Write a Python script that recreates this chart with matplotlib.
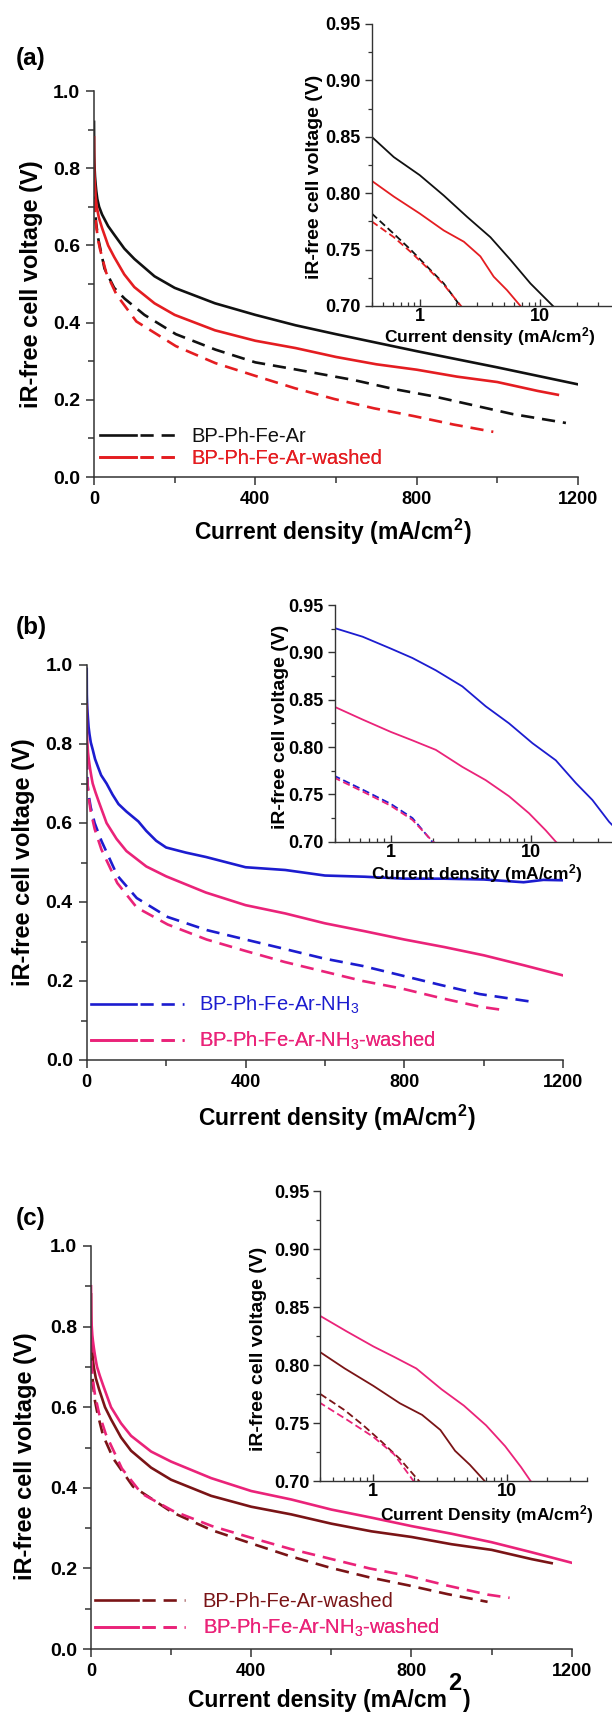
import matplotlib
matplotlib.use('Agg')
import numpy as np
import matplotlib.pyplot as plt
from matplotlib.ticker import MultipleLocator, LogLocator, NullFormatter
from matplotlib.legend_handler import HandlerTuple
from matplotlib.lines import Line2D

plt.rcParams['font.family'] = ['Liberation Sans', 'DejaVu Sans']
plt.rcParams['mathtext.fontset'] = 'custom'
plt.rcParams['mathtext.rm'] = 'Liberation Sans'
plt.rcParams['mathtext.bf'] = 'Liberation Sans:bold'
plt.rcParams['mathtext.it'] = 'Liberation Sans:italic'
plt.rcParams['mathtext.default'] = 'regular'

# ---------------- data (current density mA/cm2, iR-free voltage V) ----------------
ar_solid_x = [0.05, 0.4, 0.61, 1.0, 1.58, 2.47, 3.85, 5.64, 8.26, 12.7, 20, 35, 50, 75, 100, 150, 200,
              300, 400, 500, 600, 700, 800, 900, 1000, 1100, 1200]
ar_solid_v = [0.92, 0.850, 0.832, 0.816, 0.798, 0.779, 0.761, 0.741, 0.720, 0.700, 0.680, 0.650, 0.628,
              0.592, 0.565, 0.520, 0.490, 0.450, 0.420, 0.393, 0.370, 0.348, 0.326, 0.305, 0.284, 0.262, 0.240]

ar_dash_x = [0.4, 0.61, 0.84, 1.15, 1.58, 2.17, 5, 10, 26, 50, 76, 125, 203, 301, 400, 498, 645, 743,
             842, 940, 1038, 1170]
ar_dash_v = [0.782, 0.764, 0.750, 0.735, 0.720, 0.700, 0.660, 0.620, 0.540, 0.490, 0.462, 0.420, 0.370,
             0.330, 0.297, 0.279, 0.251, 0.228, 0.209, 0.186, 0.163, 0.140]

arw_solid_x = [0.05, 0.4, 0.61, 1.0, 1.58, 2.32, 3.18, 4.10, 5.29, 6.83, 12, 20, 35, 50, 75, 100, 150,
               200, 300, 400, 500, 600, 700, 800, 900, 1000, 1100, 1150]
arw_solid_v = [0.88, 0.811, 0.797, 0.782, 0.767, 0.757, 0.744, 0.726, 0.714, 0.700, 0.672, 0.645, 0.600,
               0.570, 0.525, 0.492, 0.450, 0.420, 0.380, 0.353, 0.334, 0.311, 0.292, 0.278, 0.260, 0.246,
               0.223, 0.213]

arw_dash_x = [0.4, 0.61, 0.84, 1.15, 1.58, 2.2, 5, 10, 15, 30, 56, 105, 203, 301, 400, 498, 596, 694,
              792, 891, 990]
arw_dash_v = [0.775, 0.761, 0.748, 0.734, 0.719, 0.700, 0.655, 0.615, 0.590, 0.530, 0.472, 0.403, 0.339,
              0.295, 0.262, 0.230, 0.202, 0.178, 0.158, 0.136, 0.117]

nh3_solid_x = [0.05, 0.39, 0.63, 1.0, 1.43, 2.1, 3.25, 4.77, 7.0, 10.3, 15.1, 21, 27.6, 36.3, 50, 65, 80,
               100, 130, 150, 175, 200, 250, 300, 400, 500, 600, 700, 800, 900, 1000, 1100, 1150, 1200]
nh3_solid_v = [0.99, 0.926, 0.9165, 0.904, 0.894, 0.881, 0.864, 0.843, 0.825, 0.804, 0.786, 0.762, 0.744,
               0.721, 0.700, 0.672, 0.648, 0.629, 0.604, 0.580, 0.555, 0.538, 0.525, 0.514, 0.488, 0.481,
               0.467, 0.464, 0.459, 0.459, 0.457, 0.450, 0.456, 0.455]

nh3_dash_x = [0.39, 0.63, 1.0, 1.43, 1.98, 5, 10, 20, 37, 77, 126, 204, 302, 400, 499, 597, 695, 793,
              891, 989, 1117]
nh3_dash_v = [0.770, 0.755, 0.740, 0.725, 0.700, 0.670, 0.640, 0.600, 0.555, 0.467, 0.410, 0.362, 0.329,
              0.305, 0.281, 0.257, 0.238, 0.214, 0.190, 0.167, 0.148]

nh3w_solid_x = [0.05, 0.39, 0.63, 1.0, 1.43, 2.1, 3.25, 4.77, 7.0, 9.73, 12.8, 15.1, 22, 30, 50, 75, 100,
                150, 200, 300, 400, 500, 600, 700, 800, 900, 1000, 1100, 1200]
nh3w_solid_v = [0.90, 0.843, 0.829, 0.816, 0.807, 0.797, 0.779, 0.765, 0.748, 0.730, 0.712, 0.700, 0.678,
                0.655, 0.600, 0.560, 0.529, 0.490, 0.465, 0.424, 0.392, 0.371, 0.346, 0.326, 0.305, 0.286,
                0.265, 0.240, 0.214]

nh3w_dash_x = [0.39, 0.63, 1.0, 1.43, 2.0, 5, 10, 20, 37, 77, 126, 204, 302, 400, 499, 597, 695, 793, 891,
               990, 1045]
nh3w_dash_v = [0.768, 0.753, 0.738, 0.723, 0.700, 0.665, 0.630, 0.585, 0.533, 0.448, 0.386, 0.343, 0.305,
               0.276, 0.248, 0.224, 0.200, 0.181, 0.157, 0.135, 0.127]

labels_ar = 'BP-Ph-Fe-Ar'
labels_arw = 'BP-Ph-Fe-Ar-washed'
labels_nh3 = 'BP-Ph-Fe-Ar-NH$_3$'
labels_nh3w = 'BP-Ph-Fe-Ar-NH$_3$-washed'
panel_letters = ['(a)', '(b)', '(c)']

main_xticks = [0, 400, 800, 1200]
main_xminor = [200, 600, 1000]
main_yticks = [0.0, 0.2, 0.4, 0.6, 0.8, 1.0]
main_yminor = [0.1, 0.3, 0.5, 0.7, 0.9]
inset_xticks = [1, 10]
inset_yticks = [0.70, 0.75, 0.80, 0.85, 0.90, 0.95]

C_BLACK = '#111111'
C_RED = '#e41d21'
C_BLUE = '#1c1ccf'
C_PINK = '#ea2379'
C_BROWN = '#7a1416'
SPINE = '#333333'

W, H, DPI = 612, 1716, 100
fig = plt.figure(figsize=(W / DPI, H / DPI), dpi=DPI)


def px_axes(left, top, right, bottom):
    return fig.add_axes([left / W, 1 - bottom / H, (right - left) / W, (bottom - top) / H])


LW_MAIN = 1.9
LW_IN = 1.3
DASH_MAIN = (0, (5, 3))
DASH_IN = (0, (4, 2))


def style_main(ax, xlabel_pos, ylabel_pos, xlabel=True):
    ax.set_xlim(0, 1200)
    ax.set_ylim(0, 1.0)
    for s in ['top', 'right']:
        ax.spines[s].set_visible(False)
    for s in ['left', 'bottom']:
        ax.spines[s].set_color(SPINE)
        ax.spines[s].set_linewidth(1.1)
    ax.set_xticks(main_xticks, labels=[str(t) for t in main_xticks], fontsize=13, fontweight='bold')
    ax.set_yticks(main_yticks, labels=['%.1f' % t for t in main_yticks], fontsize=14, fontweight='bold')
    ax.set_xticks(main_xminor, minor=True)
    ax.set_yticks(main_yminor, minor=True)
    ax.tick_params(which='major', direction='out', length=6, width=1.1, color=SPINE, pad=4)
    ax.tick_params(which='minor', direction='out', length=4, width=1.1, color=SPINE)
    if xlabel:
        ax.set_xlabel('Current density (mA/cm$^\\mathbf{2}$)', fontsize=16.5, fontweight='bold', va='center')
        ax.xaxis.set_label_coords(*xlabel_pos)
    ax.set_ylabel('iR-free cell voltage (V)', fontsize=17, fontweight='bold', va='center')
    ax.yaxis.set_label_coords(*ylabel_pos)
    ax.patch.set_alpha(0)


def style_inset(ax, xlabel_text, xlabel_pos, ylabel_pos):
    ax.set_xscale('log')
    ax.set_xlim(0.4, 40)
    ax.set_ylim(0.70, 0.95)
    for s in ['top', 'right']:
        ax.spines[s].set_visible(False)
    for s in ['left', 'bottom']:
        ax.spines[s].set_color(SPINE)
        ax.spines[s].set_linewidth(1.0)
    ax.set_xticks(inset_xticks, labels=[str(t) for t in inset_xticks], fontsize=13, fontweight='bold')
    ax.xaxis.set_minor_locator(LogLocator(base=10, subs=np.arange(2, 10)))
    ax.xaxis.set_minor_formatter(NullFormatter())
    ax.set_yticks(inset_yticks, labels=['%.2f' % t for t in inset_yticks], fontsize=13, fontweight='bold')
    ax.yaxis.set_minor_locator(MultipleLocator(0.025))
    ax.tick_params(axis='x', which='major', direction='in', length=5, width=1.0, color=SPINE, pad=1.5)
    ax.tick_params(axis='x', which='minor', direction='in', length=3, width=0.9, color=SPINE)
    ax.tick_params(axis='y', which='major', direction='out', length=5, width=1.0, color=SPINE, pad=3)
    ax.tick_params(axis='y', which='minor', direction='out', length=3, width=0.9, color=SPINE)
    ax.set_xlabel(xlabel_text, fontsize=12.5, fontweight='bold', va='center')
    ax.xaxis.set_label_coords(*xlabel_pos)
    ax.set_ylabel('iR-free cell voltage (V)', fontsize=14, fontweight='bold', va='center')
    ax.yaxis.set_label_coords(*ylabel_pos)
    ax.patch.set_alpha(0)


def legend_row(ax, color, label, anchor, hlen, hpad):
    h_solid = Line2D([], [], color=color, lw=LW_MAIN)
    h_dash = Line2D([], [], color=color, lw=LW_MAIN, ls=DASH_MAIN)
    leg = ax.legend([(h_solid, h_dash)], [label], handler_map={tuple: HandlerTuple(ndivide=None, pad=0.2)},
                    loc='center left', bbox_to_anchor=anchor, frameon=False, borderpad=0,
                    borderaxespad=0, handlelength=hlen, handletextpad=hpad, fontsize=14.5,
                    labelcolor=color)
    ax.add_artist(leg)


def plot_pair(ax_main, ax_in, xs, vs, xd, vd, color):
    ax_main.plot(xs, vs, color=color, lw=LW_MAIN)
    ax_main.plot(xd, vd, color=color, lw=LW_MAIN, ls=DASH_MAIN)
    ax_in.plot(xs, vs, color=color, lw=LW_IN)
    ax_in.plot(xd, vd, color=color, lw=LW_IN, ls=DASH_IN)


# ---------------- panel (a) ----------------
axA = px_axes(94, 91, 578, 477)
inA = px_axes(371.7, 24, 613.1, 306)
plot_pair(axA, inA, ar_solid_x, ar_solid_v, ar_dash_x, ar_dash_v, C_BLACK)
plot_pair(axA, inA, arw_solid_x, arw_solid_v, arw_dash_x, arw_dash_v, C_RED)
style_main(axA, (0.493, -0.1425), (-0.130, 0.5))
style_inset(inA, 'Current density (mA/cm$^\\mathbf{2}$)', (0.49, -0.108), (-0.235, 0.459))
legend_row(axA, C_BLACK, labels_ar, (0.012, 0.104), 3.8, 0.75)
legend_row(axA, C_RED, labels_arw, (0.012, 0.047), 3.8, 0.75)

# ---------------- panel (b) ----------------
axB = px_axes(86.7, 665, 563.3, 1060)
inB = px_axes(335, 605, 615, 841.7)
plot_pair(axB, inB, nh3_solid_x, nh3_solid_v, nh3_dash_x, nh3_dash_v, C_BLUE)
plot_pair(axB, inB, nh3w_solid_x, nh3w_solid_v, nh3w_dash_x, nh3w_dash_v, C_PINK)
style_main(axB, (0.525, -0.147), (-0.132, 0.5))
style_inset(inB, 'Current density (mA/cm$^\\mathbf{2}$)', (0.507, -0.135), (-0.196, 0.485))
legend_row(axB, C_BLUE, labels_nh3, (0.010, 0.140), 4.6, 0.75)
legend_row(axB, C_PINK, labels_nh3w, (0.010, 0.048), 4.6, 0.75)

# ---------------- panel (c) ----------------
axC = px_axes(91, 1246, 571.7, 1649)
inC = px_axes(320.3, 1191, 587, 1481)
plot_pair(axC, inC, arw_solid_x, arw_solid_v, arw_dash_x, arw_dash_v, C_BROWN)
plot_pair(axC, inC, nh3w_solid_x, nh3w_solid_v, nh3w_dash_x, nh3w_dash_v, C_PINK)
style_main(axC, None, (-0.137, 0.479), xlabel=False)
style_inset(inC, 'Current Density (mA/cm$^\\mathbf{2}$)', (0.625, -0.116), (-0.232, 0.455))
legend_row(axC, C_BROWN, labels_arw, (0.008, 0.117), 4.5, 0.85)
legend_row(axC, C_PINK, labels_nh3w, (0.008, 0.052), 4.5, 0.85)

# panel (c) x-label with a full-size raised "2"
tC = fig.text(188 / W, 1 - 1707 / H, 'Current density (mA/cm', fontsize=16.5, fontweight='bold',
              ha='left', va='baseline')
axC.annotate('2', xy=(1, 0), xycoords=tC, xytext=(1, 12), textcoords='offset points',
             ha='left', va='bottom', fontsize=17, fontweight='bold', annotation_clip=False)
axC.annotate(')', xy=(1, 0), xycoords=tC, xytext=(11.5, 0), textcoords='offset points',
             ha='left', va='bottom', fontsize=16.5, fontweight='bold', annotation_clip=False)

# panel letters
for letter, yc in zip(panel_letters, [58, 628, 1218]):
    fig.text(15.6 / W, 1 - yc / H, letter, fontsize=17.5, fontweight='bold', ha='left', va='center')

fig.savefig('out.png', dpi=DPI, facecolor='white')
